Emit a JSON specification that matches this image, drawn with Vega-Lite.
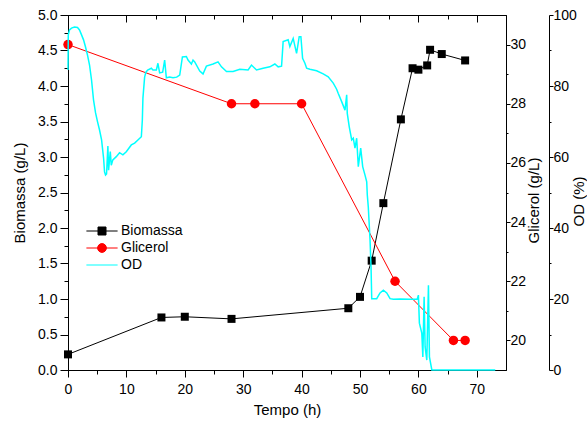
{
  "$schema": "https://vega.github.io/schema/vega-lite/v6.json",
  "width": 438,
  "height": 355,
  "autosize": {"type": "none"},
  "padding": {"left": 68, "top": 15, "right": 81, "bottom": 51},
  "background": "white",
  "config": {
    "view": {"stroke": "black", "strokeWidth": 1},
    "font": "Liberation Sans",
    "axis": {
      "domainColor": "black",
      "tickColor": "black",
      "labelColor": "black",
      "titleColor": "black",
      "labelFont": "Liberation Sans",
      "titleFont": "Liberation Sans",
      "labelFontSize": 14,
      "titleFontSize": 15,
      "titleFontWeight": "normal",
      "grid": false,
      "labelOverlap": false,
      "labelBound": false,
      "labelFlush": false
    }
  },
  "datasets": {
    "biomassa": [
      {"t": 0, "biomassa": 0.22, "serie": "Biomassa"},
      {"t": 16, "biomassa": 0.74, "serie": "Biomassa"},
      {"t": 20, "biomassa": 0.75, "serie": "Biomassa"},
      {"t": 28, "biomassa": 0.72, "serie": "Biomassa"},
      {"t": 48, "biomassa": 0.87, "serie": "Biomassa"},
      {"t": 50, "biomassa": 1.03, "serie": "Biomassa"},
      {"t": 52, "biomassa": 1.54, "serie": "Biomassa"},
      {"t": 54, "biomassa": 2.35, "serie": "Biomassa"},
      {"t": 57, "biomassa": 3.53, "serie": "Biomassa"},
      {"t": 59, "biomassa": 4.25, "serie": "Biomassa"},
      {"t": 60, "biomassa": 4.23, "serie": "Biomassa"},
      {"t": 61.5, "biomassa": 4.29, "serie": "Biomassa"},
      {"t": 62, "biomassa": 4.51, "serie": "Biomassa"},
      {"t": 64, "biomassa": 4.45, "serie": "Biomassa"},
      {"t": 68, "biomassa": 4.36, "serie": "Biomassa"}
    ],
    "glicerol": [
      {"t": 0, "glicerol": 30.0, "serie": "Glicerol"},
      {"t": 28, "glicerol": 28.0, "serie": "Glicerol"},
      {"t": 32, "glicerol": 28.0, "serie": "Glicerol"},
      {"t": 40, "glicerol": 28.0, "serie": "Glicerol"},
      {"t": 56, "glicerol": 22.0, "serie": "Glicerol"},
      {"t": 66, "glicerol": 20.0, "serie": "Glicerol"},
      {"t": 68, "glicerol": 20.0, "serie": "Glicerol"}
    ],
    "od": [
      {"t": 0.0, "od": 84.5, "serie": "OD"},
      {"t": 0.05, "od": 94.4, "serie": "OD"},
      {"t": 0.26, "od": 95.8, "serie": "OD"},
      {"t": 0.6, "od": 96.3, "serie": "OD"},
      {"t": 1.11, "od": 96.6, "serie": "OD"},
      {"t": 1.63, "od": 96.5, "serie": "OD"},
      {"t": 1.97, "od": 95.8, "serie": "OD"},
      {"t": 2.32, "od": 94.4, "serie": "OD"},
      {"t": 2.66, "od": 93.0, "serie": "OD"},
      {"t": 3.0, "od": 91.0, "serie": "OD"},
      {"t": 3.34, "od": 88.7, "serie": "OD"},
      {"t": 3.69, "od": 85.9, "serie": "OD"},
      {"t": 4.03, "od": 81.7, "serie": "OD"},
      {"t": 4.37, "od": 76.1, "serie": "OD"},
      {"t": 4.72, "od": 72.4, "serie": "OD"},
      {"t": 5.06, "od": 69.9, "serie": "OD"},
      {"t": 5.4, "od": 67.6, "serie": "OD"},
      {"t": 5.75, "od": 64.8, "serie": "OD"},
      {"t": 6.09, "od": 59.7, "serie": "OD"},
      {"t": 6.26, "od": 55.8, "serie": "OD"},
      {"t": 6.43, "od": 54.9, "serie": "OD"},
      {"t": 6.6, "od": 55.2, "serie": "OD"},
      {"t": 6.83, "od": 63.1, "serie": "OD"},
      {"t": 6.95, "od": 56.3, "serie": "OD"},
      {"t": 7.24, "od": 61.5, "serie": "OD"},
      {"t": 7.41, "od": 57.7, "serie": "OD"},
      {"t": 7.68, "od": 59.2, "serie": "OD"},
      {"t": 8.27, "od": 60.1, "serie": "OD"},
      {"t": 8.83, "od": 61.2, "serie": "OD"},
      {"t": 9.4, "od": 60.6, "serie": "OD"},
      {"t": 9.98, "od": 61.5, "serie": "OD"},
      {"t": 10.84, "od": 63.4, "serie": "OD"},
      {"t": 11.41, "od": 63.9, "serie": "OD"},
      {"t": 11.97, "od": 64.8, "serie": "OD"},
      {"t": 12.56, "od": 65.7, "serie": "OD"},
      {"t": 12.73, "od": 70.4, "serie": "OD"},
      {"t": 12.83, "od": 76.6, "serie": "OD"},
      {"t": 13.12, "od": 82.5, "serie": "OD"},
      {"t": 13.34, "od": 83.9, "serie": "OD"},
      {"t": 13.64, "od": 84.5, "serie": "OD"},
      {"t": 14.27, "od": 85.0, "serie": "OD"},
      {"t": 14.55, "od": 84.5, "serie": "OD"},
      {"t": 15.13, "od": 84.5, "serie": "OD"},
      {"t": 15.4, "od": 86.4, "serie": "OD"},
      {"t": 15.69, "od": 83.7, "serie": "OD"},
      {"t": 16.21, "od": 83.9, "serie": "OD"},
      {"t": 16.55, "od": 87.3, "serie": "OD"},
      {"t": 16.84, "od": 82.3, "serie": "OD"},
      {"t": 17.41, "od": 82.5, "serie": "OD"},
      {"t": 17.98, "od": 82.3, "serie": "OD"},
      {"t": 18.61, "od": 82.5, "serie": "OD"},
      {"t": 19.13, "od": 83.1, "serie": "OD"},
      {"t": 19.59, "od": 88.2, "serie": "OD"},
      {"t": 20.27, "od": 88.3, "serie": "OD"},
      {"t": 20.55, "od": 87.3, "serie": "OD"},
      {"t": 21.13, "od": 86.2, "serie": "OD"},
      {"t": 21.41, "od": 87.3, "serie": "OD"},
      {"t": 21.7, "od": 86.8, "serie": "OD"},
      {"t": 22.56, "od": 84.2, "serie": "OD"},
      {"t": 23.12, "od": 83.4, "serie": "OD"},
      {"t": 23.7, "od": 85.6, "serie": "OD"},
      {"t": 24.84, "od": 86.2, "serie": "OD"},
      {"t": 25.69, "od": 86.8, "serie": "OD"},
      {"t": 26.28, "od": 85.4, "serie": "OD"},
      {"t": 27.14, "od": 84.1, "serie": "OD"},
      {"t": 28.27, "od": 84.1, "serie": "OD"},
      {"t": 29.42, "od": 84.7, "serie": "OD"},
      {"t": 30.84, "od": 84.5, "serie": "OD"},
      {"t": 31.42, "od": 85.9, "serie": "OD"},
      {"t": 32.28, "od": 84.5, "serie": "OD"},
      {"t": 33.41, "od": 85.0, "serie": "OD"},
      {"t": 34.56, "od": 85.4, "serie": "OD"},
      {"t": 35.42, "od": 86.2, "serie": "OD"},
      {"t": 35.99, "od": 85.4, "serie": "OD"},
      {"t": 36.57, "od": 85.6, "serie": "OD"},
      {"t": 36.84, "od": 92.5, "serie": "OD"},
      {"t": 37.7, "od": 93.0, "serie": "OD"},
      {"t": 37.99, "od": 91.1, "serie": "OD"},
      {"t": 38.56, "od": 93.4, "serie": "OD"},
      {"t": 39.14, "od": 89.2, "serie": "OD"},
      {"t": 39.59, "od": 93.9, "serie": "OD"},
      {"t": 39.88, "od": 93.9, "serie": "OD"},
      {"t": 40.17, "od": 87.8, "serie": "OD"},
      {"t": 40.57, "od": 86.4, "serie": "OD"},
      {"t": 40.86, "od": 85.0, "serie": "OD"},
      {"t": 41.42, "od": 84.7, "serie": "OD"},
      {"t": 42.57, "od": 84.3, "serie": "OD"},
      {"t": 43.7, "od": 83.4, "serie": "OD"},
      {"t": 44.56, "od": 82.6, "serie": "OD"},
      {"t": 45.42, "od": 80.8, "serie": "OD"},
      {"t": 46.0, "od": 79.1, "serie": "OD"},
      {"t": 46.28, "od": 77.9, "serie": "OD"},
      {"t": 46.86, "od": 75.6, "serie": "OD"},
      {"t": 47.43, "od": 73.2, "serie": "OD"},
      {"t": 47.72, "od": 77.5, "serie": "OD"},
      {"t": 47.82, "od": 72.3, "serie": "OD"},
      {"t": 48.16, "od": 68.5, "serie": "OD"},
      {"t": 48.58, "od": 64.8, "serie": "OD"},
      {"t": 48.85, "od": 65.3, "serie": "OD"},
      {"t": 49.14, "od": 62.5, "serie": "OD"},
      {"t": 49.43, "od": 65.3, "serie": "OD"},
      {"t": 49.71, "od": 57.3, "serie": "OD"},
      {"t": 50.12, "od": 62.5, "serie": "OD"},
      {"t": 50.46, "od": 57.3, "serie": "OD"},
      {"t": 50.86, "od": 54.9, "serie": "OD"},
      {"t": 51.15, "od": 53.0, "serie": "OD"},
      {"t": 51.25, "od": 49.3, "serie": "OD"},
      {"t": 51.42, "od": 45.9, "serie": "OD"},
      {"t": 51.72, "od": 36.6, "serie": "OD"},
      {"t": 51.89, "od": 29.0, "serie": "OD"},
      {"t": 52.01, "od": 20.1, "serie": "OD"},
      {"t": 52.86, "od": 20.1, "serie": "OD"},
      {"t": 53.43, "od": 21.7, "serie": "OD"},
      {"t": 54.0, "od": 22.5, "serie": "OD"},
      {"t": 54.58, "od": 21.7, "serie": "OD"},
      {"t": 55.15, "od": 20.1, "serie": "OD"},
      {"t": 55.71, "od": 19.9, "serie": "OD"},
      {"t": 56.86, "od": 20.0, "serie": "OD"},
      {"t": 58.58, "od": 19.9, "serie": "OD"},
      {"t": 59.78, "od": 19.9, "serie": "OD"},
      {"t": 60.0, "od": 21.1, "serie": "OD"},
      {"t": 60.17, "od": 13.2, "serie": "OD"},
      {"t": 60.58, "od": 10.4, "serie": "OD"},
      {"t": 60.76, "od": 3.7, "serie": "OD"},
      {"t": 60.98, "od": 20.6, "serie": "OD"},
      {"t": 61.15, "od": 6.5, "serie": "OD"},
      {"t": 61.44, "od": 2.8, "serie": "OD"},
      {"t": 61.72, "od": 23.9, "serie": "OD"},
      {"t": 61.89, "od": 3.7, "serie": "OD"},
      {"t": 62.3, "od": 0.0, "serie": "OD"},
      {"t": 73.16, "od": 0.0, "serie": "OD"}
    ]
  },
  "resolve": {"scale": {"y": "independent"}, "axis": {"x": "independent"}},
  "layer": [
    {
      "data": {"name": "biomassa"},
      "mark": {"type": "line", "strokeWidth": 1},
      "encoding": {
        "x": {
          "field": "t", "type": "quantitative",
          "scale": {"domain": [0, 75], "nice": false, "zero": false},
          "axis": {
            "orient": "bottom",
            "title": "Tempo (h)",
            "values": [0, 5, 10, 15, 20, 25, 30, 35, 40, 45, 50, 55, 60, 65, 70],
            "labelExpr": "datum.value % 10 === 0 ? datum.label : ''",
            "tickSize": {"condition": {"test": "datum.value % 10 === 0", "value": 7}, "value": 4},
            "labelPadding": 5,
            "titlePadding": 6
          }
        },
        "y": {
          "field": "biomassa", "type": "quantitative",
          "scale": {"domain": [0, 5], "nice": false},
          "axis": {
            "orient": "left",
            "title": "Biomassa (g/L)",
            "values": [0, 0.25, 0.5, 0.75, 1, 1.25, 1.5, 1.75, 2, 2.25, 2.5, 2.75, 3, 3.25, 3.5, 3.75, 4, 4.25, 4.5, 4.75, 5],
            "labelExpr": "abs(datum.value * 2 - round(datum.value * 2)) < 0.001 ? format(datum.value, '.1f') : ''",
            "tickSize": {"condition": {"test": "abs(datum.value * 2 - round(datum.value * 2)) < 0.001", "value": 8}, "value": 4},
            "labelPadding": 3,
            "titlePadding": 10
          }
        },
        "color": {
          "field": "serie", "type": "nominal",
          "scale": {"domain": ["Biomassa", "Glicerol", "OD"], "range": ["#000000", "#ff0000", "#00ffff"]},
          "legend": {
            "orient": "none",
            "legendX": 27,
            "legendY": 209,
            "title": null,
            "padding": 0,
            "labelFont": "Liberation Sans",
            "labelFontSize": 14,
            "labelColor": "black",
            "labelOffset": 12,
            "rowPadding": 3,
            "symbolSize": 64,
            "symbolStrokeWidth": 1,
            "encode": {
              "symbols": {
                "update": {
                  "shape": {"signal": "datum.value === 'Biomassa' ? 'M-3.9,0H3.9M-1,-1H1V1H-1Z' : datum.value === 'Glicerol' ? 'M-3.9,0H3.9M-1.1,0A1.1,1.1,0,1,0,1.1,0A1.1,1.1,0,1,0,-1.1,0Z' : 'M-3.9,0H3.9'"},
                  "fill": {"signal": "datum.value === 'OD' ? 'transparent' : scale('color', datum.value)"},
                  "stroke": {"signal": "scale('color', datum.value)"},
                  "strokeWidth": {"value": 1},
                  "opacity": {"value": 1}
                }
              }
            }
          }
        }
      }
    },
    {
      "data": {"name": "biomassa"},
      "mark": {"type": "point", "shape": "square", "filled": true, "size": 64, "color": "black", "opacity": 1},
      "encoding": {
        "x": {"field": "t", "type": "quantitative", "scale": {"domain": [0, 75], "nice": false, "zero": false}, "axis": null},
        "y": {"field": "biomassa", "type": "quantitative", "scale": {"domain": [0, 5], "nice": false}, "axis": null}
      }
    },
    {
      "data": {"name": "glicerol"},
      "mark": {"type": "line", "strokeWidth": 1},
      "encoding": {
        "x": {"field": "t", "type": "quantitative", "scale": {"domain": [0, 75], "nice": false, "zero": false}, "axis": null},
        "y": {
          "field": "glicerol", "type": "quantitative",
          "scale": {"domain": [19, 31], "nice": false, "zero": false},
          "axis": {
            "orient": "right",
            "title": "Glicerol (g/L)",
            "titleAngle": 270,
            "titleAlign": "center",
            "titleBaseline": "middle",
            "titleX": 27,
            "titleY": 185,
            "values": [20, 21, 22, 23, 24, 25, 26, 27, 28, 29, 30],
            "labelExpr": "datum.value % 2 === 0 ? datum.label : ''",
            "tickSize": {"condition": {"test": "datum.value % 2 === 0", "value": 4}, "value": 2},
            "labelPadding": 0
          }
        },
        "color": {"field": "serie", "type": "nominal"}
      }
    },
    {
      "data": {"name": "glicerol"},
      "mark": {"type": "point", "shape": "circle", "filled": true, "size": 90, "color": "#ff0000", "opacity": 1},
      "encoding": {
        "x": {"field": "t", "type": "quantitative", "scale": {"domain": [0, 75], "nice": false, "zero": false}, "axis": null},
        "y": {"field": "glicerol", "type": "quantitative", "scale": {"domain": [19, 31], "nice": false, "zero": false}, "axis": null}
      }
    },
    {
      "data": {"name": "od"},
      "mark": {"type": "line", "strokeWidth": 1.5},
      "encoding": {
        "x": {"field": "t", "type": "quantitative", "scale": {"domain": [0, 75], "nice": false, "zero": false}, "axis": null},
        "y": {
          "field": "od", "type": "quantitative",
          "scale": {"domain": [0, 100], "nice": false},
          "axis": {
            "orient": "right",
            "offset": 43,
            "title": "OD (%)",
            "titleAngle": 270,
            "titleAlign": "center",
            "titleBaseline": "middle",
            "titleX": 29,
            "titleY": 186,
            "values": [0, 10, 20, 30, 40, 50, 60, 70, 80, 90, 100],
            "labelExpr": "datum.value % 20 === 0 ? datum.label : ''",
            "tickSize": {"condition": {"test": "datum.value % 20 === 0", "value": 4}, "value": 2},
            "labelPadding": 0
          }
        },
        "color": {"field": "serie", "type": "nominal"}
      }
    },
    {
      "data": {"name": "biomassa"},
      "mark": {"type": "point", "opacity": 0},
      "encoding": {
        "x": {
          "field": "t", "type": "quantitative",
          "scale": {"domain": [0, 75], "nice": false, "zero": false},
          "axis": {
            "orient": "top",
            "title": null,
            "labels": false,
            "values": [0, 5, 10, 15, 20, 25, 30, 35, 40, 45, 50, 55, 60, 65, 70],
            "tickSize": {"condition": {"test": "datum.value % 10 === 0", "value": -7}, "value": -4}
          }
        }
      }
    }
  ]
}
